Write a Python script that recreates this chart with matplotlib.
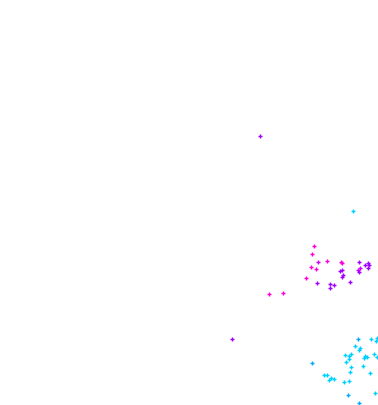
import matplotlib
matplotlib.use("Agg")
import matplotlib.pyplot as plt

# upper cluster (magenta -> purple)
up_x = [314.3, 312.0, 318.3, 327.0, 340.7, 342.0, 359.0, 311.0, 316.0, 365.0, 367.7, 369.0, 368.0,
        357.7, 359.7, 359.3, 340.0, 342.0, 341.7, 343.3, 306.3, 316.7, 330.0, 334.3, 330.3, 350.3,
        269.0, 283.0, 231.7, 260.0]
up_y = [247.3, 255.3, 262.7, 262.0, 263.0, 264.3, 262.7, 267.7, 270.0, 265.7, 264.3, 266.0, 268.7,
        270.7, 269.3, 273.3, 272.3, 271.0, 277.7, 276.3, 279.3, 284.0, 284.7, 286.3, 289.3, 283.3,
        295.0, 294.0, 340.0, 137.0]
up_c = ["m", "m", "v", "m", "m", "m", "p", "m", "m", "p", "p", "p", "p",
        "v", "v", "p", "p", "p", "p", "p", "m", "p", "p", "p", "p", "p",
        "m", "m", "p", "p"]

# lower cluster (cyan / blue)
lo_x = [358.3, 370.7, 377.0, 376.0, 355.3, 360.3, 358.7, 345.3, 350.7, 349.3, 348.7, 365.3, 366.7,
        364.3, 374.0, 377.0, 312.0, 346.3, 351.0, 363.3, 350.0, 370.0, 324.0, 327.3, 330.7, 328.7,
        334.0, 343.7, 349.3, 375.0, 348.0, 359.3, 353.3]
lo_y = [340.3, 340.3, 339.3, 342.0, 347.3, 349.3, 350.7, 356.0, 355.0, 356.7, 359.7, 356.7, 358.0,
        359.3, 355.0, 358.3, 363.7, 363.3, 368.3, 367.3, 373.3, 373.7, 376.0, 376.3, 379.3, 380.7,
        379.7, 383.0, 382.3, 393.7, 396.0, 404.3, 211.7]
lo_c = ["b", "c", "c", "c", "c", "c", "c", "c", "c", "c", "c", "c", "c",
        "c", "c", "c", "b", "c", "c", "c", "c", "c", "c", "c", "c", "c",
        "c", "c", "c", "c", "b", "b", "c"]

palette = {"m": "#ff00d8", "v": "#d000ff", "p": "#a000ff", "c": "#00d0ff", "b": "#00a8ff"}

fig = plt.figure(figsize=(3.78, 4.06), dpi=100)
ax = fig.add_axes([0, 0, 1, 1])
ax.set_xlim(0, 378)
ax.set_ylim(406, 0)
ax.axis("off")

for xs, ys, cs in ((up_x, up_y, up_c), (lo_x, lo_y, lo_c)):
    for x, y, c in zip(xs, ys, cs):
        ax.plot([x], [y], marker="+", markersize=3.2, markeredgewidth=1.0,
                color=palette[c], linestyle="none")

fig.savefig("out.png", dpi=100, facecolor="white")
